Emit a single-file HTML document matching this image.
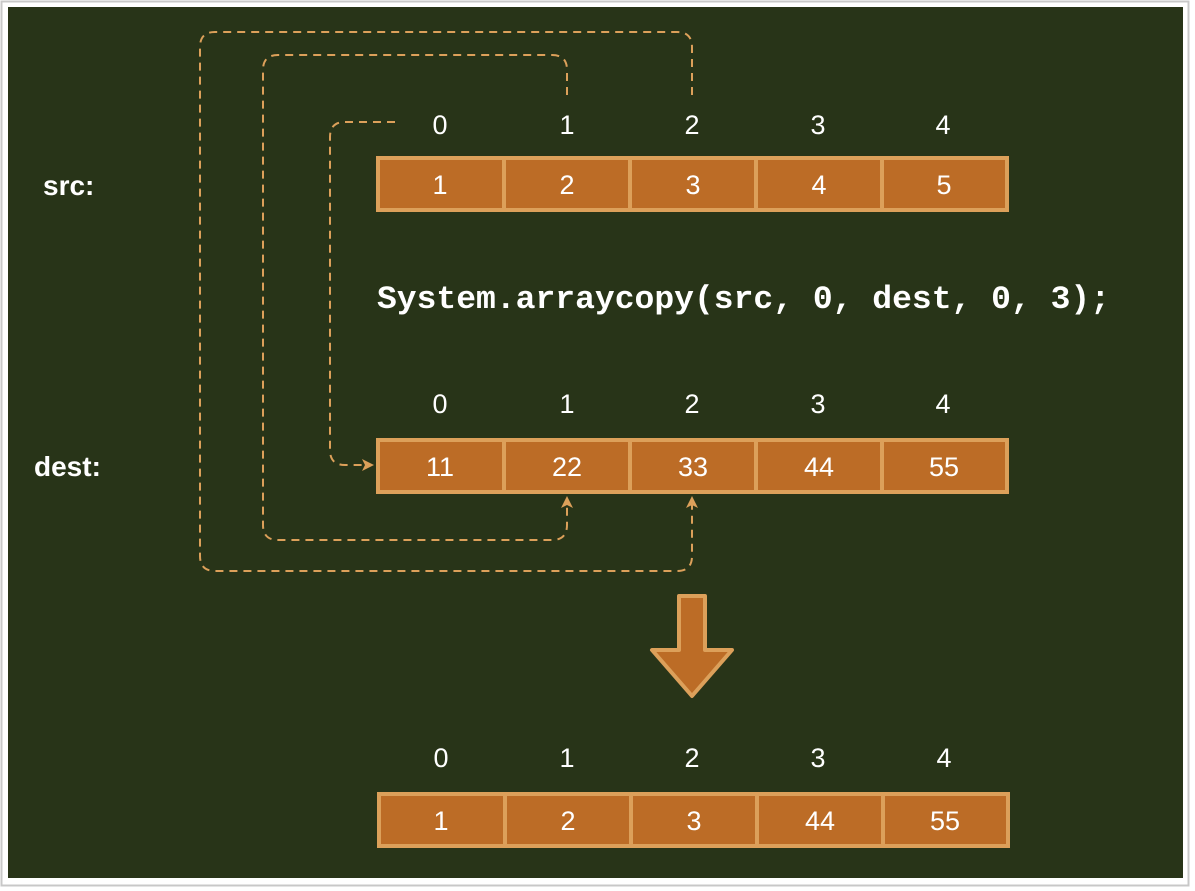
<!DOCTYPE html>
<html><head><meta charset="utf-8"><style>
html,body{margin:0;padding:0;background:#fff;}
svg{display:block}
</style></head><body>
<svg width="1195" height="891" xmlns="http://www.w3.org/2000/svg">
<rect x="0" y="0" width="1195" height="891" fill="#fff"/>
<rect x="1.5" y="1.5" width="1187" height="884" fill="#fff" stroke="#c8c8c8" stroke-width="2"/>
<rect x="8" y="7" width="1175" height="871" fill="#283418"/>
<defs>
<marker id="ah" markerWidth="12" markerHeight="12" refX="10" refY="6" orient="auto" markerUnits="userSpaceOnUse">
<path d="M0,0 L12,6 L0,12 L3,6 Z" fill="#dca05a"/>
</marker>
</defs>
<g fill="none" stroke="#dca05a" stroke-width="2" stroke-dasharray="8,6">
<path d="M395,122 L345,122 Q330,122 330,137 L330,450 Q330,465 345,465 L372,465" marker-end="url(#ah)"/>
<path d="M567,95 L567,70 Q567,55 552,55 L278,55 Q263,55 263,70 L263,525 Q263,540 278,540 L552,540 Q567,540 567,525 L567,498" marker-end="url(#ah)"/>
<path d="M692,95 L692,47 Q692,32 677,32 L215,32 Q200,32 200,47 L200,556 Q200,571 215,571 L677,571 Q692,571 692,556 L692,498" marker-end="url(#ah)"/>
</g>
<g font-family="Liberation Sans, sans-serif" font-size="27" fill="#fff" text-anchor="middle">
<text x="440" y="134">0</text><text x="567" y="134">1</text><text x="692" y="134">2</text><text x="818" y="134">3</text><text x="943" y="134">4</text>
<text x="440" y="413">0</text><text x="567" y="413">1</text><text x="692" y="413">2</text><text x="818" y="413">3</text><text x="943" y="413">4</text>
<text x="441" y="767">0</text><text x="567" y="767">1</text><text x="692" y="767">2</text><text x="818" y="767">3</text><text x="944" y="767">4</text>
</g>
<g fill="#bc6c26" stroke="#dca05a" stroke-width="4">
<rect x="378" y="158" width="126" height="52"/><rect x="504" y="158" width="126" height="52"/><rect x="630" y="158" width="126" height="52"/><rect x="756" y="158" width="126" height="52"/><rect x="882" y="158" width="125" height="52"/>
<rect x="378" y="440" width="126" height="52"/><rect x="504" y="440" width="126" height="52"/><rect x="630" y="440" width="126" height="52"/><rect x="756" y="440" width="126" height="52"/><rect x="882" y="440" width="125" height="52"/>
<rect x="379" y="794" width="126" height="52"/><rect x="505" y="794" width="126" height="52"/><rect x="631" y="794" width="126" height="52"/><rect x="757" y="794" width="126" height="52"/><rect x="883" y="794" width="125" height="52"/>
<path d="M679,596 L705,596 L705,650 L732,650 L692,696 L652,650 L679,650 Z" stroke-width="4" stroke-linejoin="round"/>
</g>
<g font-family="Liberation Sans, sans-serif" font-size="27" fill="#fff" text-anchor="middle">
<text x="440" y="194">1</text><text x="567" y="194">2</text><text x="693" y="194">3</text><text x="819" y="194">4</text><text x="944" y="194">5</text>
<text x="440" y="476">11</text><text x="567" y="476">22</text><text x="693" y="476">33</text><text x="819" y="476">44</text><text x="944" y="476">55</text>
<text x="441" y="830">1</text><text x="568" y="830">2</text><text x="694" y="830">3</text><text x="820" y="830">44</text><text x="945" y="830">55</text>
</g>
<g font-family="Liberation Sans, sans-serif" font-size="28" font-weight="bold" fill="#fff">
<text x="43" y="195">src:</text>
<text x="34" y="476">dest:</text>
</g>
<text x="377" y="308" font-family="Liberation Mono, monospace" font-size="32" font-weight="bold" fill="#fff" textLength="733" lengthAdjust="spacingAndGlyphs">System.arraycopy(src, 0, dest, 0, 3);</text>
</svg>
</body></html>
